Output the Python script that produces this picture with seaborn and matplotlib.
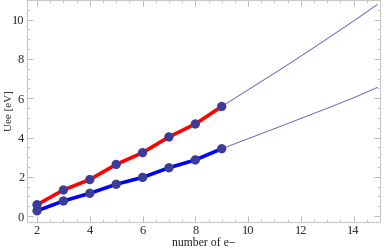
import seaborn as sns
import matplotlib.pyplot as plt
import pandas as pd
from matplotlib.ticker import MultipleLocator

n_electrons = [2, 3, 4, 5, 6, 7, 8, 9]
uee_red = [0.58, 1.33, 1.86, 2.63, 3.23, 4.03, 4.69, 5.58]
uee_blue = [0.27, 0.77, 1.16, 1.62, 1.97, 2.46, 2.86, 3.43]

fit_x = [9, 10, 11, 12, 13, 14, 14.9]
fit_red = [5.58, 6.43, 7.27, 8.14, 9.03, 9.93, 10.77]
fit_blue = [3.43, 3.94, 4.45, 4.97, 5.49, 6.02, 6.55]

sns.set_style("ticks")
plt.rcParams["font.family"] = ["Liberation Serif", "DejaVu Serif"]

df = pd.DataFrame({"n": n_electrons, "red": uee_red, "blue": uee_blue})
fit = pd.DataFrame({"n": fit_x, "red": fit_red, "blue": fit_blue})

fig = plt.figure(figsize=(3.86, 2.48), dpi=100)
ax = fig.add_axes([27 / 386, 26 / 248, 353 / 386, 222 / 248])

pt = "#3d3d99"
sns.lineplot(data=fit, x="n", y="red", ax=ax, color="#6a6ac0", lw=0.7)
sns.lineplot(data=fit, x="n", y="blue", ax=ax, color="#6a6ac0", lw=0.7)
sns.lineplot(data=df, x="n", y="red", ax=ax, color="#ff0000", lw=2.6)
sns.lineplot(data=df, x="n", y="blue", ax=ax, color="#0000ff", lw=2.6)
sns.scatterplot(data=df, x="n", y="red", ax=ax, color=pt, s=45, edgecolor="none", zorder=5)
sns.scatterplot(data=df, x="n", y="blue", ax=ax, color=pt, s=45, edgecolor="none", zorder=5)

ax.set_xlim(1.62, 15.0)
ax.set_ylim(-0.3, 11.0)
ax.xaxis.set_major_locator(MultipleLocator(2))
ax.xaxis.set_minor_locator(MultipleLocator(0.5))
ax.yaxis.set_major_locator(MultipleLocator(2))
ax.yaxis.set_minor_locator(MultipleLocator(0.5))
ax.tick_params(which="both", direction="in", color="#b0b0b0", labelsize=9,
               top=True, right=True, pad=2)
ax.tick_params(which="major", length=4, width=0.6)
ax.tick_params(which="minor", length=2, width=0.5)
for s in ax.spines.values():
    s.set_color("#c8c8c8")
    s.set_linewidth(0.8)

ax.set_xlabel("number of e\u2212", fontsize=8.5)
ax.set_ylabel("Uee [eV]", fontsize=8)
ax.xaxis.set_label_coords(0.5, -0.066)
ax.yaxis.set_label_coords(-0.038, 0.5)

fig.savefig("out.png", dpi=100)
